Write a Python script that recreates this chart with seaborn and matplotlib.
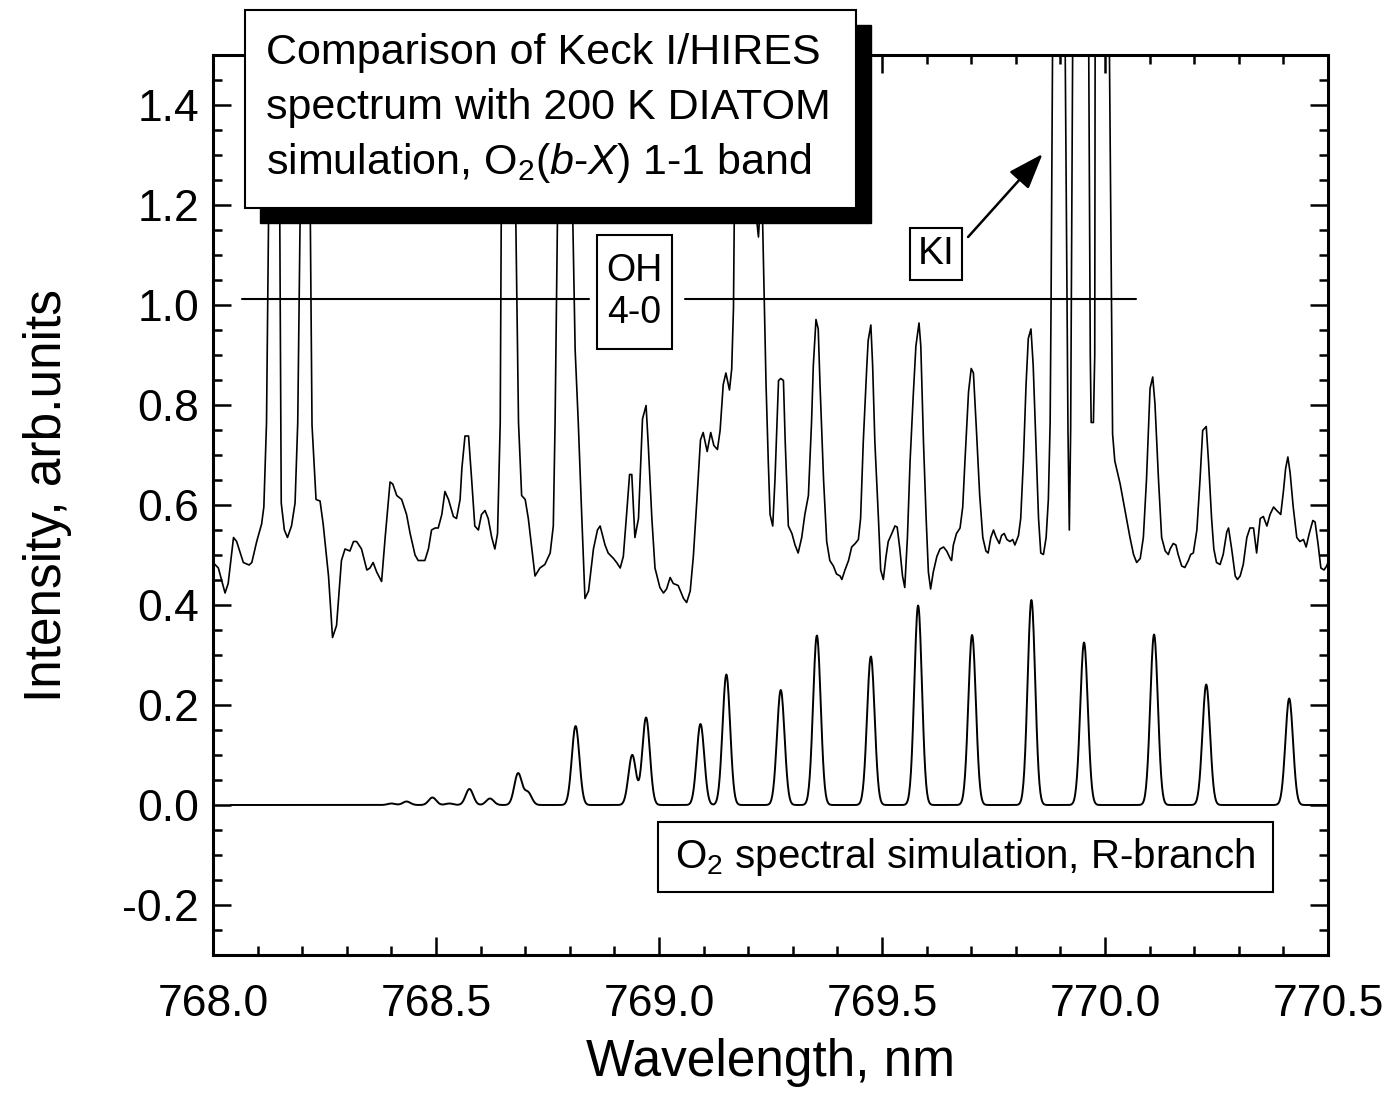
import numpy as np
import pandas as pd
import matplotlib
matplotlib.use("Agg")
import matplotlib.pyplot as plt
import seaborn as sns
from matplotlib import font_manager
from matplotlib.patches import Rectangle
from matplotlib.ticker import MultipleLocator, FormatStrFormatter

# Keck I/HIRES spectrum (nm, arb.units)
obs_wl = [
    768.000, 768.012, 768.027, 768.034, 768.046, 768.053, 768.068, 768.081, 768.087, 768.098,
    768.109, 768.114, 768.120, 768.126, 768.137, 768.149, 768.153, 768.160, 768.167, 768.176,
    768.184, 768.190, 768.197, 768.206, 768.217, 768.222, 768.231, 768.240, 768.247, 768.259,
    768.268, 768.277, 768.288, 768.296, 768.307, 768.315, 768.322, 768.333, 768.345, 768.352,
    768.359, 768.367, 768.378, 768.386, 768.397, 768.403, 768.412, 768.423, 768.434, 768.442,
    768.453, 768.460, 768.475, 768.483, 768.490, 768.498, 768.505, 768.513, 768.520, 768.528,
    768.539, 768.546, 768.554, 768.558, 768.565, 768.573, 768.580, 768.587, 768.595, 768.602,
    768.610, 768.617, 768.625, 768.632, 768.638, 768.644, 768.647, 768.660, 768.677, 768.685,
    768.692, 768.700, 768.707, 768.715, 768.722, 768.733, 768.744, 768.756, 768.763, 768.767,
    768.774, 768.790, 768.804, 768.812, 768.819, 768.827, 768.834, 768.842, 768.853, 768.862,
    768.868, 768.879, 768.886, 768.898, 768.905, 768.913, 768.920, 768.928, 768.934, 768.939,
    768.946, 768.954, 768.963, 768.971, 768.976, 768.984, 768.991, 769.002, 769.010, 769.017,
    769.025, 769.032, 769.043, 769.055, 769.062, 769.070, 769.077, 769.085, 769.093, 769.099,
    769.108, 769.116, 769.123, 769.131, 769.137, 769.144, 769.150, 769.158, 769.163, 769.167,
    769.170, 769.195, 769.219, 769.223, 769.227, 769.232, 769.240, 769.245, 769.249, 769.255,
    769.260, 769.268, 769.273, 769.279, 769.283, 769.290, 769.298, 769.305, 769.312, 769.320,
    769.327, 769.335, 769.342, 769.346, 769.352, 769.357, 769.361, 769.369, 769.376, 769.383,
    769.391, 769.398, 769.406, 769.410, 769.417, 769.425, 769.432, 769.440, 769.447, 769.452,
    769.458, 769.466, 769.469, 769.475, 769.479, 769.484, 769.492, 769.497, 769.503, 769.509,
    769.514, 769.522, 769.529, 769.534, 769.540, 769.546, 769.551, 769.557, 769.563, 769.570,
    769.576, 769.583, 769.587, 769.593, 769.599, 769.604, 769.609, 769.615, 769.623, 769.630,
    769.638, 769.645, 769.653, 769.656, 769.660, 769.667, 769.675, 769.681, 769.686, 769.694,
    769.700, 769.705, 769.712, 769.719, 769.726, 769.733, 769.738, 769.744, 769.750, 769.756,
    769.763, 769.768, 769.774, 769.780, 769.787, 769.793, 769.798, 769.806, 769.811, 769.817,
    769.823, 769.828, 769.834, 769.839, 769.845, 769.851, 769.856, 769.862, 769.868, 769.873,
    769.877, 769.879, 769.883, 769.896, 769.910, 769.917, 769.920, 769.923, 769.928, 769.945,
    769.963, 769.967, 769.969, 769.974, 769.977, 769.978, 769.995, 770.010, 770.017, 770.022,
    770.034, 770.045, 770.056, 770.064, 770.071, 770.079, 770.086, 770.093, 770.101, 770.107,
    770.112, 770.120, 770.127, 770.135, 770.142, 770.146, 770.153, 770.159, 770.164, 770.172,
    770.179, 770.187, 770.192, 770.198, 770.206, 770.213, 770.219, 770.227, 770.232, 770.239,
    770.244, 770.250, 770.258, 770.265, 770.273, 770.277, 770.284, 770.292, 770.297, 770.303,
    770.310, 770.318, 770.325, 770.333, 770.340, 770.348, 770.355, 770.363, 770.370, 770.378,
    770.385, 770.394, 770.400, 770.405, 770.410, 770.415, 770.422, 770.430, 770.437, 770.445,
    770.451, 770.458, 770.466, 770.471, 770.478, 770.484, 770.491, 770.497, 770.500,
]
obs_int = [
    0.485, 0.474, 0.424, 0.443, 0.535, 0.527, 0.485, 0.480, 0.485, 0.527,
    0.562, 0.596, 0.765, 1.300, 2.000, 1.300, 0.604, 0.550, 0.535, 0.558,
    0.604, 0.765, 1.300, 2.000, 1.300, 0.760, 0.611, 0.608, 0.562, 0.458,
    0.335, 0.359, 0.489, 0.512, 0.508, 0.527, 0.527, 0.512, 0.470, 0.474,
    0.485, 0.466, 0.447, 0.535, 0.646, 0.642, 0.619, 0.611, 0.581, 0.543,
    0.500, 0.489, 0.489, 0.512, 0.550, 0.554, 0.554, 0.581, 0.627, 0.611,
    0.577, 0.573, 0.611, 0.673, 0.738, 0.738, 0.650, 0.558, 0.550, 0.581,
    0.589, 0.573, 0.535, 0.512, 0.543, 0.765, 1.300, 2.000, 1.300, 0.765,
    0.619, 0.611, 0.573, 0.512, 0.458, 0.474, 0.481, 0.504, 0.558, 0.765,
    1.300, 2.000, 1.300, 0.910, 0.765, 0.573, 0.413, 0.428, 0.512, 0.550,
    0.558, 0.520, 0.504, 0.493, 0.485, 0.474, 0.497, 0.589, 0.661, 0.661,
    0.535, 0.573, 0.772, 0.799, 0.719, 0.573, 0.474, 0.435, 0.424, 0.432,
    0.455, 0.443, 0.439, 0.413, 0.405, 0.428, 0.497, 0.611, 0.730, 0.745,
    0.707, 0.745, 0.719, 0.711, 0.749, 0.841, 0.864, 0.830, 0.872, 0.994,
    1.300, 2.000, 1.170, 1.136, 1.200, 1.180, 0.841, 0.688, 0.581, 0.558,
    0.650, 0.849, 0.853, 0.849, 0.726, 0.558, 0.543, 0.520, 0.504, 0.535,
    0.581, 0.619, 0.765, 0.879, 0.971, 0.952, 0.841, 0.650, 0.527, 0.489,
    0.478, 0.462, 0.458, 0.451, 0.470, 0.489, 0.516, 0.523, 0.531, 0.573,
    0.726, 0.879, 0.929, 0.960, 0.879, 0.726, 0.573, 0.470, 0.451, 0.497,
    0.527, 0.543, 0.558, 0.556, 0.512, 0.458, 0.435, 0.535, 0.688, 0.818,
    0.918, 0.964, 0.918, 0.726, 0.573, 0.466, 0.432, 0.466, 0.497, 0.512,
    0.516, 0.508, 0.493, 0.489, 0.520, 0.543, 0.554, 0.596, 0.688, 0.826,
    0.873, 0.864, 0.745, 0.620, 0.535, 0.508, 0.504, 0.535, 0.550, 0.535,
    0.523, 0.539, 0.543, 0.531, 0.527, 0.531, 0.520, 0.539, 0.573, 0.688,
    0.841, 0.933, 0.952, 0.879, 0.726, 0.573, 0.504, 0.501, 0.535, 0.611,
    0.765, 0.994, 1.600, 2.000, 1.600, 0.750, 0.550, 0.750, 1.600, 2.000,
    1.600, 0.900, 0.765, 0.765, 0.900, 1.600, 2.000, 1.500, 0.742, 0.688,
    0.642, 0.589, 0.535, 0.501, 0.485, 0.493, 0.535, 0.650, 0.833, 0.856,
    0.803, 0.650, 0.535, 0.508, 0.501, 0.512, 0.523, 0.520, 0.501, 0.478,
    0.475, 0.489, 0.501, 0.504, 0.550, 0.650, 0.749, 0.757, 0.688, 0.573,
    0.512, 0.485, 0.481, 0.501, 0.546, 0.554, 0.512, 0.458, 0.451, 0.458,
    0.481, 0.535, 0.554, 0.554, 0.504, 0.573, 0.577, 0.558, 0.581, 0.596,
    0.589, 0.581, 0.627, 0.673, 0.696, 0.665, 0.596, 0.535, 0.527, 0.531,
    0.516, 0.543, 0.569, 0.566, 0.520, 0.474, 0.470, 0.478, 0.485,
]

# DIATOM R-branch lines: centre (nm) and peak height
sim_center = [768.400, 768.434, 768.492, 768.530, 768.575, 768.621, 768.684, 768.706,
              768.813, 768.940, 768.971, 769.093, 769.151, 769.273, 769.354, 769.475,
              769.581, 769.702, 769.835, 769.953, 770.110, 770.227, 770.413]
sim_height = [0.003, 0.007, 0.015, 0.003, 0.032, 0.013, 0.063, 0.025,
              0.158, 0.100, 0.175, 0.162, 0.261, 0.230, 0.339, 0.297,
              0.399, 0.340, 0.410, 0.325, 0.341, 0.241, 0.213]
sim_sigma = 0.0085      # instrument line width, nm
sim_start = 768.04

oh_level = 1.012
oh_left = [768.066, 768.843]
oh_right = [769.058, 770.069]

# simulated profile = line list convolved with the instrument function
sim_wl = np.linspace(sim_start, 770.5, 2461)
sim_int = np.zeros_like(sim_wl)
for c, h in zip(sim_center, sim_height):
    sim_int += h * np.exp(-(sim_wl - c) ** 2 / (2 * sim_sigma ** 2))

sns.set_style("ticks")
installed = {f.name for f in font_manager.fontManager.ttflist}
narrow = "Liberation Sans Narrow" in installed
axis_font = "Liberation Sans Narrow" if narrow else "Liberation Sans"
tick_size = 38 if narrow else 32
label_size = 45 if narrow else 37
plt.rcParams["font.family"] = ["Liberation Sans", "DejaVu Sans"]
plt.rcParams["axes.unicode_minus"] = False
plt.rcParams["mathtext.fontset"] = "custom"
plt.rcParams["mathtext.rm"] = "Liberation Sans"
plt.rcParams["mathtext.it"] = "Liberation Sans:italic"
plt.rcParams["mathtext.bf"] = "Liberation Sans:bold"
plt.rcParams["text.color"] = "black"
plt.rcParams["axes.labelcolor"] = "black"
plt.rcParams["xtick.color"] = "black"
plt.rcParams["ytick.color"] = "black"

W, H = 1395, 1105
fig = plt.figure(figsize=(W / 100, H / 100), dpi=100)
ax = fig.add_axes([213 / W, 1 - 955 / H, 1115 / W, 900 / H])

obs = pd.DataFrame({"wl": obs_wl, "intensity": obs_int})
sim = pd.DataFrame({"wl": sim_wl, "intensity": sim_int})
sns.lineplot(data=obs, x="wl", y="intensity", ax=ax, color="black", lw=1.2,
             estimator=None, sort=False)
sns.lineplot(data=sim, x="wl", y="intensity", ax=ax, color="black", lw=1.4,
             estimator=None, sort=False)

ax.set_xlim(768.0, 770.5)
ax.set_ylim(-0.3, 1.5)

# OH 4-0 marker
ax.plot(oh_left, [oh_level, oh_level], color="black", lw=1.5)
ax.plot(oh_right, [oh_level, oh_level], color="black", lw=1.5)
ax.add_patch(Rectangle((768.861, 0.912), 0.168, 0.228, fc="white", ec="black", lw=1.5, zorder=4))
ax.text(768.945, 1.026, "OH\n4-0", ha="center", va="center", fontsize=27, zorder=5)

# KI label + arrow
ax.add_patch(Rectangle((769.563, 1.05), 0.116, 0.104, fc="white", ec="black", lw=1.5, zorder=4))
ax.text(769.621, 1.102, "KI", ha="center", va="center", fontsize=28, zorder=5)
ax.annotate("", xy=(769.860, 1.302), xytext=(769.693, 1.136),
            arrowprops=dict(arrowstyle="-|>,head_length=1.1,head_width=0.4", color="black",
                            lw=1.8, shrinkA=0, shrinkB=0, mutation_scale=20))

# simulation label
ax.add_patch(Rectangle((768.998, -0.174), 1.379, 0.140, fc="white", ec="black", lw=1.5, zorder=4))
ax.text(769.687, -0.104, r"O$_2$ spectral simulation, R-branch", ha="center", va="center",
        fontsize=29, zorder=5)

# axes styling
ax.xaxis.set_major_locator(MultipleLocator(0.5))
ax.xaxis.set_minor_locator(MultipleLocator(0.1))
ax.yaxis.set_major_locator(MultipleLocator(0.2))
ax.yaxis.set_minor_locator(MultipleLocator(0.05))
ax.xaxis.set_major_formatter(FormatStrFormatter("%.1f"))
ax.yaxis.set_major_formatter(FormatStrFormatter("%.1f"))
ax.tick_params(which="both", direction="in", top=True, right=True, width=1.8,
               color="black", labelcolor="black")
ax.tick_params(which="major", length=13)
ax.tick_params(which="minor", length=6.5)
ax.tick_params(axis="x", which="major", labelsize=tick_size, pad=21, labelfontfamily=axis_font)
ax.tick_params(axis="y", which="major", labelsize=tick_size, pad=10, labelfontfamily=axis_font)
for s in ax.spines.values():
    s.set_visible(True)
    s.set_linewidth(2.2)
    s.set_color("black")

ax.set_xlabel("Wavelength, nm", fontsize=label_size, fontfamily=axis_font, color="black")
ax.set_ylabel("Intensity, arb.units", fontsize=label_size, fontfamily=axis_font, color="black")
ax.xaxis.set_label_coords(0.5, (955 - 1038) / 900)
ax.yaxis.set_label_coords((72 - 213) / 1115, 0.51)

# title box with drop shadow, drawn over the frame
fig.add_artist(Rectangle((260 / W, 1 - 223 / H), 611 / W, 198 / H, transform=fig.transFigure,
                         fc="black", ec="black", zorder=10))
fig.add_artist(Rectangle((245 / W, 1 - 208 / H), 611 / W, 198 / H, transform=fig.transFigure,
                         fc="white", ec="black", lw=1.5, zorder=11))
title_lines = ["Comparison of Keck I/HIRES",
               "spectrum with 200 K DIATOM",
               r"simulation, O$_2$($b$-$X$) 1-1 band"]
for txt, base in zip(title_lines, [64, 119, 174]):
    fig.text(266 / W, 1 - base / H, txt, ha="left", va="baseline", fontsize=31,
             color="black", zorder=12)

fig.savefig("out.png", dpi=100)
